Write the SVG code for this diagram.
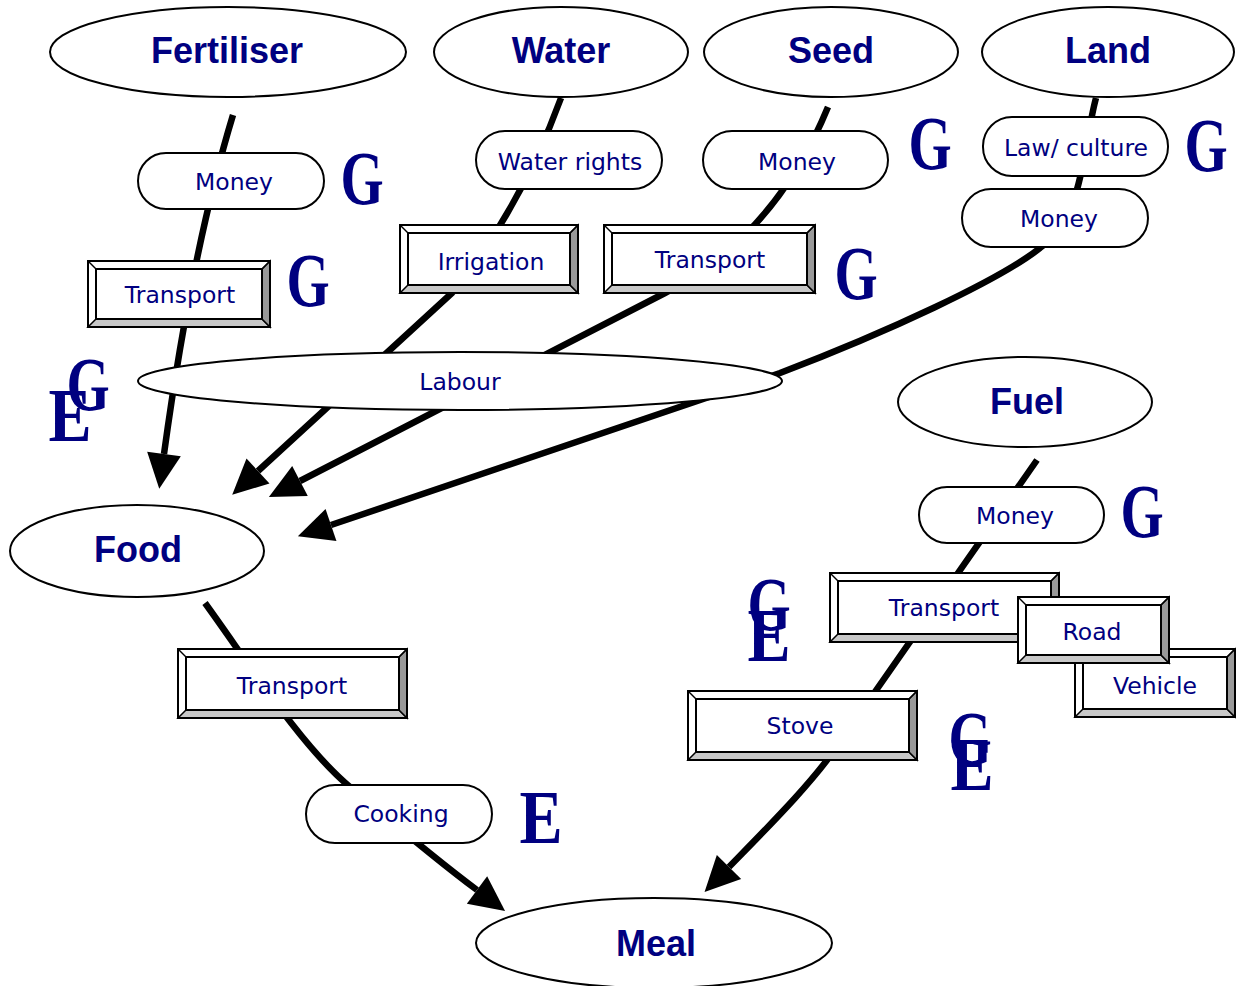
<svg xmlns="http://www.w3.org/2000/svg" width="1236" height="986" viewBox="0 0 1236 986">
<style>
.big{font-family:"Liberation Sans",Arial,sans-serif;font-weight:bold;font-size:36px;fill:#000080;text-anchor:middle}
.lbl{font-family:"DejaVu Sans",Verdana,sans-serif;font-size:23.5px;fill:#000080;text-anchor:middle}
.ge{font-family:"Liberation Serif","Times New Roman",serif;font-weight:bold;font-size:76px;fill:#000080;text-anchor:middle}
.shape{fill:#fff;stroke:#000;stroke-width:2}
.con{fill:none;stroke:#000;stroke-width:6.5;marker-end:url(#ah)}
.bot{fill:#c8c8c8;stroke:#000;stroke-width:1.5}
.rt{fill:#999;stroke:#000;stroke-width:1.5}
.dg{stroke:#000;stroke-width:1.5}
.out{fill:none;stroke:#000;stroke-width:2}
</style>
<defs>
<marker id="ah" markerUnits="userSpaceOnUse" markerWidth="38" markerHeight="36" refX="0" refY="17" orient="auto" viewBox="0 0 38 34" overflow="visible"><path d="M0,0 L35,17 L0,34 z" fill="#000"/></marker>
</defs>
<rect width="1236" height="986" fill="#fff"/>
<g id="connectors">
<path class="con" d="M233,115 Q192,250 164,454"/>
<path class="con" d="M561,98 Q520,210 452,293 L258,471"/>
<path class="con" d="M828,107 Q775,236 665,293 L300,481"/>
<path class="con" d="M1096,98 C1082,150 1085,215 1040,248 C1000,280 885,333 780,373 L331,525"/>
<path class="con" d="M205,603 C250,665 300,745 350,787 C380,812 430,855 477,890"/>
<path class="con" d="M1037,460 L840,742 C815,780 770,825 729,867"/>
</g>
<g id="fertiliser"><ellipse class="shape" cx="228" cy="52" rx="178" ry="45"/><text class="big" x="227" y="63">Fertiliser</text></g>
<g id="water"><ellipse class="shape" cx="561" cy="52" rx="127" ry="45"/><text class="big" x="561" y="63">Water</text></g>
<g id="seed"><ellipse class="shape" cx="831" cy="52" rx="127" ry="45"/><text class="big" x="831" y="63">Seed</text></g>
<g id="land"><ellipse class="shape" cx="1108" cy="52" rx="126" ry="45"/><text class="big" x="1108" y="63">Land</text></g>
<g id="fuel"><ellipse class="shape" cx="1025" cy="402" rx="127" ry="45"/><text class="big" x="1027" y="414">Fuel</text></g>
<g id="food"><ellipse class="shape" cx="137" cy="551" rx="127" ry="46"/><text class="big" x="138" y="562">Food</text></g>
<g id="meal"><ellipse class="shape" cx="654" cy="943" rx="178" ry="45"/><text class="big" x="656" y="956">Meal</text></g>
<g id="labour"><ellipse class="shape" cx="460" cy="381" rx="322" ry="29"/><text class="lbl" x="460" y="390">Labour</text></g>

<g id="fert-money"><rect class="shape" x="138" y="153" width="186" height="56" rx="28"/><text class="lbl" x="234" y="190">Money</text></g>
<g id="water-rights"><rect class="shape" x="476" y="131" width="186" height="58" rx="29"/><text class="lbl" x="570" y="170">Water rights</text></g>
<g id="seed-money"><rect class="shape" x="703" y="131" width="185" height="58" rx="29"/><text class="lbl" x="797" y="170">Money</text></g>
<g id="law-culture"><rect class="shape" x="983" y="117" width="185" height="59" rx="29"/><text class="lbl" x="1076" y="156">Law/ culture</text></g>
<g id="land-money"><rect class="shape" x="962" y="189" width="186" height="58" rx="29"/><text class="lbl" x="1059" y="227">Money</text></g>
<g id="fuel-money"><rect class="shape" x="919" y="487" width="185" height="56" rx="28"/><text class="lbl" x="1015" y="524">Money</text></g>
<g id="cooking"><rect class="shape" x="306" y="785" width="186" height="58" rx="29"/><text class="lbl" x="401" y="822">Cooking</text></g>

<g id="fert-transport">
<rect x="88" y="261" width="182" height="66" fill="#fff"/>
<polygon class="bot" points="88,327 270,327 262,319 96,319"/>
<polygon class="rt" points="270,261 270,327 262,319 262,269"/>
<line class="dg" x1="88" y1="261" x2="96" y2="269"/><line class="dg" x1="270" y1="261" x2="262" y2="269"/>
<rect class="out" x="88" y="261" width="182" height="66"/><rect class="out" x="96" y="269" width="166" height="50"/>
<text class="lbl" x="180" y="303">Transport</text></g>

<g id="irrigation">
<rect x="400" y="225" width="178" height="68" fill="#fff"/>
<polygon class="bot" points="400,293 578,293 570,285 408,285"/>
<polygon class="rt" points="578,225 578,293 570,285 570,233"/>
<line class="dg" x1="400" y1="225" x2="408" y2="233"/><line class="dg" x1="578" y1="225" x2="570" y2="233"/>
<rect class="out" x="400" y="225" width="178" height="68"/><rect class="out" x="408" y="233" width="162" height="52"/>
<text class="lbl" x="491" y="270">Irrigation</text></g>

<g id="seed-transport">
<rect x="604" y="225" width="211" height="68" fill="#fff"/>
<polygon class="bot" points="604,293 815,293 807,285 612,285"/>
<polygon class="rt" points="815,225 815,293 807,285 807,233"/>
<line class="dg" x1="604" y1="225" x2="612" y2="233"/><line class="dg" x1="815" y1="225" x2="807" y2="233"/>
<rect class="out" x="604" y="225" width="211" height="68"/><rect class="out" x="612" y="233" width="195" height="52"/>
<text class="lbl" x="710" y="268">Transport</text></g>

<g id="food-transport">
<rect x="178" y="649" width="229" height="69" fill="#fff"/>
<polygon class="bot" points="178,718 407,718 399,710 186,710"/>
<polygon class="rt" points="407,649 407,718 399,710 399,657"/>
<line class="dg" x1="178" y1="649" x2="186" y2="657"/><line class="dg" x1="407" y1="649" x2="399" y2="657"/>
<rect class="out" x="178" y="649" width="229" height="69"/><rect class="out" x="186" y="657" width="213" height="53"/>
<text class="lbl" x="292" y="694">Transport</text></g>

<g id="vehicle">
<rect x="1075" y="649" width="160" height="68" fill="#fff"/>
<polygon class="bot" points="1075,717 1235,717 1227,709 1083,709"/>
<polygon class="rt" points="1235,649 1235,717 1227,709 1227,657"/>
<line class="dg" x1="1075" y1="649" x2="1083" y2="657"/><line class="dg" x1="1235" y1="649" x2="1227" y2="657"/>
<rect class="out" x="1075" y="649" width="160" height="68"/><rect class="out" x="1083" y="657" width="144" height="52"/>
<text class="lbl" x="1155" y="694">Vehicle</text></g>

<g id="fuel-transport">
<rect x="830" y="573" width="229" height="69" fill="#fff"/>
<polygon class="bot" points="830,642 1059,642 1051,634 838,634"/>
<polygon class="rt" points="1059,573 1059,642 1051,634 1051,581"/>
<line class="dg" x1="830" y1="573" x2="838" y2="581"/><line class="dg" x1="1059" y1="573" x2="1051" y2="581"/>
<rect class="out" x="830" y="573" width="229" height="69"/><rect class="out" x="838" y="581" width="213" height="53"/>
<text class="lbl" x="944" y="616">Transport</text></g>

<g id="road">
<rect x="1018" y="597" width="151" height="66" fill="#fff"/>
<polygon class="bot" points="1018,663 1169,663 1161,655 1026,655"/>
<polygon class="rt" points="1169,597 1169,663 1161,655 1161,605"/>
<line class="dg" x1="1018" y1="597" x2="1026" y2="605"/><line class="dg" x1="1169" y1="597" x2="1161" y2="605"/>
<rect class="out" x="1018" y="597" width="151" height="66"/><rect class="out" x="1026" y="605" width="135" height="50"/>
<text class="lbl" x="1092" y="640">Road</text></g>

<g id="stove">
<rect x="688" y="691" width="229" height="69" fill="#fff"/>
<polygon class="bot" points="688,760 917,760 909,752 696,752"/>
<polygon class="rt" points="917,691 917,760 909,752 909,699"/>
<line class="dg" x1="688" y1="691" x2="696" y2="699"/><line class="dg" x1="917" y1="691" x2="909" y2="699"/>
<rect class="out" x="688" y="691" width="229" height="69"/><rect class="out" x="696" y="699" width="213" height="53"/>
<text class="lbl" x="800" y="734">Stove</text></g>

<g id="markers-ge">
<text class="ge" transform="translate(362,204) scale(0.73,1)">G</text>
<text class="ge" transform="translate(308,306) scale(0.73,1)">G</text>
<text class="ge" transform="translate(88,410) scale(0.73,1)">G</text>
<text class="ge" transform="translate(70,441) scale(0.85,1)">E</text>
<text class="ge" transform="translate(930,169) scale(0.73,1)">G</text>
<text class="ge" transform="translate(1206,171) scale(0.73,1)">G</text>
<text class="ge" transform="translate(856,299) scale(0.73,1)">G</text>
<text class="ge" transform="translate(1142,537) scale(0.73,1)">G</text>
<text class="ge" transform="translate(769,630) scale(0.73,1)">G</text>
<text class="ge" transform="translate(769,661) scale(0.85,1)">E</text>
<text class="ge" transform="translate(970,764) scale(0.73,1)">G</text>
<text class="ge" transform="translate(972,790) scale(0.85,1)">E</text>
<text class="ge" transform="translate(541,843) scale(0.85,1)">E</text>
</g>
</svg>
